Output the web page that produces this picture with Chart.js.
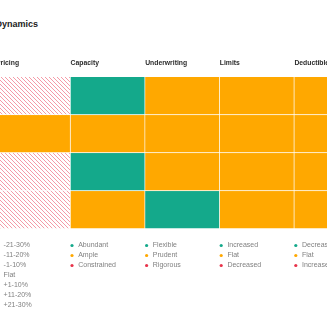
<!DOCTYPE html>
<html>
<head>
<meta charset="utf-8">
<script src="https://cdn.jsdelivr.net/npm/chart.js@4"></script>
<style>
  body { margin: 0; width: 327px; height: 327px; overflow: hidden; background: #fff; position: relative; }
  #title { position: absolute; right: calc(100% - 38px); top: 19px; white-space: nowrap;
           font: bold 9px "Liberation Sans", Arial, sans-serif; color: #222; }
  #wrap { position: absolute; left: -4px; top: 0; width: 373px; height: 327px; }
</style>
</head>
<body>
<div id="title">Market Dynamics</div>
<div id="wrap"><canvas id="grid"></canvas></div>
<script>
// columns + cell values (top row first)
const columns = ["Pricing", "Capacity", "Underwriting", "Limits", "Deductibles"];
const rows = ["Row 1", "Row 2", "Row 3", "Row 4"];

const pricing = ["+1-10%", "Flat", "+1-10%", "+1-10%"];
const capacity = ["Abundant", "Ample", "Abundant", "Ample"];
const underwriting = ["Prudent", "Prudent", "Prudent", "Flexible"];
const limits = ["Flat", "Flat", "Flat", "Flat"];
const deductibles = ["Flat", "Flat", "Flat", "Flat"];

// legend entries per column
const pricingLegend = ["-21-30%", "-11-20%", "-1-10%", "Flat", "+1-10%", "+11-20%", "+21-30%"];
const capacityLegend = ["Abundant", "Ample", "Constrained"];
const underwritingLegend = ["Flexible", "Prudent", "Rigorous"];
const limitsLegend = ["Increased", "Flat", "Decreased"];
const deductiblesLegend = ["Decreased", "Flat", "Increased"];

const TEAL = "#14a98b", ORANGE = "#ffa800", RED = "#e8334a";

function hatch() {
    const c = document.createElement("canvas");
    c.width = 4; c.height = 4;
    const g = c.getContext("2d");
    g.fillStyle = "#fff";
    g.fillRect(0, 0, 4, 4);
    g.strokeStyle = "rgba(238,100,120,0.65)";
    g.lineWidth = 1;
    g.beginPath();
    g.moveTo(-1, -1); g.lineTo(5, 5);
    g.moveTo(-1, 3); g.lineTo(1, 5);
    g.moveTo(3, -1); g.lineTo(5, 1);
    g.stroke();
    return document.getElementById("grid").getContext("2d").createPattern(c, "repeat");
}
const HATCH = hatch();

const pricingColors = [TEAL, TEAL, TEAL, ORANGE, HATCH, RED, RED];
const threeColors = [TEAL, ORANGE, RED];

const cells = [pricing, capacity, underwriting, limits, deductibles];
const legends = [pricingLegend, capacityLegend, underwritingLegend, limitsLegend, deductiblesLegend];
const legendColors = [pricingColors, threeColors, threeColors, threeColors, threeColors];

function cellColor(c, value) {
    return legendColors[c][legends[c].indexOf(value)];
}

const datasets = rows.map((name, r) => ({
    label: name,
    data: columns.map(() => 1),
    backgroundColor: columns.map((_, c) => cellColor(c, cells[c][r])),
    borderColor: "rgba(255,255,255,0.9)",
    borderWidth: { top: 0, left: 0, right: 1, bottom: 1 },
    borderSkipped: false,
    barPercentage: 1,
    categoryPercentage: 1
}));

const columnText = {
    id: "columnText",
    afterDraw(chart) {
        const { ctx, chartArea, scales: { x } } = chart;
        const colW = x.width / columns.length;
        ctx.save();
        ctx.textAlign = "left";
        ctx.textBaseline = "middle";
        columns.forEach((name, i) => {
            const left = x.getPixelForValue(i) - colW / 2;
            ctx.font = "bold 6.8px 'Liberation Sans', Arial, sans-serif";
            ctx.fillStyle = "#2b2b2b";
            ctx.fillText(name, left, chartArea.top - 13.8);
            ctx.font = "7px 'Liberation Sans', Arial, sans-serif";
            legends[i].forEach((item, j) => {
                const y = chartArea.bottom + 16.5 + j * 10;
                const col = legendColors[i][j];
                ctx.fillStyle = col === HATCH ? RED : col;
                ctx.beginPath();
                ctx.arc(left + 1.4, y, 1.6, 0, Math.PI * 2);
                ctx.fill();
                ctx.fillStyle = "#808080";
                ctx.fillText(item, left + 7.6, y);
            });
        });
        ctx.restore();
    }
};

new Chart(document.getElementById("grid"), {
    type: "bar",
    data: { labels: columns, datasets: datasets },
    options: {
        responsive: true,
        maintainAspectRatio: false,
        devicePixelRatio: 1,
        animation: false,
        layout: { padding: { top: 77, bottom: 98, left: 0, right: 0 } },
        plugins: { legend: { display: false }, tooltip: { enabled: false } },
        scales: {
            x: { display: false, stacked: true },
            y: { display: false, stacked: true, reverse: true, min: 0, max: 4 }
        }
    },
    plugins: [columnText]
});
</script>
</body>
</html>
